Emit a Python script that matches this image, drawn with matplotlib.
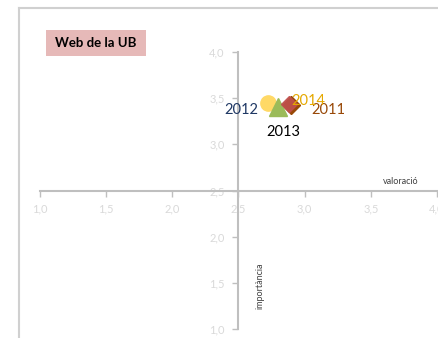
import matplotlib
matplotlib.use("Agg")
import matplotlib.pyplot as plt
from matplotlib.patches import Rectangle
from matplotlib.lines import Line2D

plt.rcParams['font.family'] = ['Lato', 'DejaVu Sans']

years = ["2011", "2012", "2013", "2014"]
valoracio = [2.90, 2.72, 2.80, 2.88]
importancia = [3.43, 3.45, 3.40, 3.44]
markers = ["D", "o", "^", "D"]
colors = ["#984807", "#FFD966", "#9BBB59", "#C0504D"]
label_colors = ["#984807", "#1F3864", "#000000", "#E5A800"]
label_offsets = [(14, -4), (-7, -5), (4, -18), (2, 2)]
label_ha = ["left", "right", "center", "left"]
ticks = [1.0, 1.5, 2.0, 2.5, 3.0, 3.5, 4.0]
tick_labels = ["1,0", "1,5", "2,0", "2,5", "3,0", "3,5", "4,0"]

W, H = 438, 338
fig = plt.figure(figsize=(W / 100, H / 100), dpi=100)

# outer frame
fig.add_artist(Line2D([19 / W, 19 / W], [0, 1 - 8 / H], color="#D0D0D0", lw=1.5))
fig.add_artist(Line2D([19 / W, 1], [1 - 8 / H, 1 - 8 / H], color="#D0D0D0", lw=1.5))

ax = fig.add_axes([40 / W, 9 / H, (437 - 40) / W, (329 - 52) / H])
ax.set_xlim(1.0, 4.0)
ax.set_ylim(1.0, 4.0)
ax.patch.set_alpha(0)

for s in ["top", "right"]:
    ax.spines[s].set_visible(False)
ax.spines["left"].set_position(("data", 2.5))
ax.spines["bottom"].set_position(("data", 2.5))
for s in ["left", "bottom"]:
    ax.spines[s].set_color("#BFBFBF")
    ax.spines[s].set_linewidth(1.5)

ax.set_xticks(ticks)
ax.set_xticklabels(tick_labels)
ax.set_yticks(ticks)
ax.set_yticklabels(tick_labels)
ax.tick_params(axis="both", colors="#BFBFBF", labelcolor="#D9D9D9", labelsize=8,
               length=4, width=1, direction="out")
ax.tick_params(axis="x", pad=5)
ax.tick_params(axis="y", pad=6)

sizes = [9, 11, 13, 8]
for i in range(len(years)):
    ax.plot(valoracio[i], importancia[i], marker=markers[i], markersize=sizes[i],
            color=colors[i], markeredgecolor=colors[i], linestyle="none",
            alpha=0.9 if i == 3 else 1.0, zorder=3 + (1 if i == 3 else 0))
    ax.annotate(years[i], (valoracio[i], importancia[i]), xytext=label_offsets[i],
                textcoords="offset points", ha=label_ha[i], va="center",
                color=label_colors[i], fontsize=10.5, zorder=6)

ax.text(3.857, 2.6, "valoració", fontsize=6.5, color="#404040", ha="right", va="center")
ax.text(2.66, 1.47, "importància", fontsize=6.5, color="#404040", rotation=90,
        ha="center", va="center")

# title box
fig.add_artist(Rectangle((46 / W, 1 - 56 / H), 100 / W, 26 / H, facecolor="#E6B9B8",
                         edgecolor="none", transform=fig.transFigure))
fig.text(96 / W, 1 - 43 / H, "Web de la UB", fontsize=9.5, fontweight="bold",
         color="#000000", ha="center", va="center")

fig.savefig("out.png", dpi=100)
